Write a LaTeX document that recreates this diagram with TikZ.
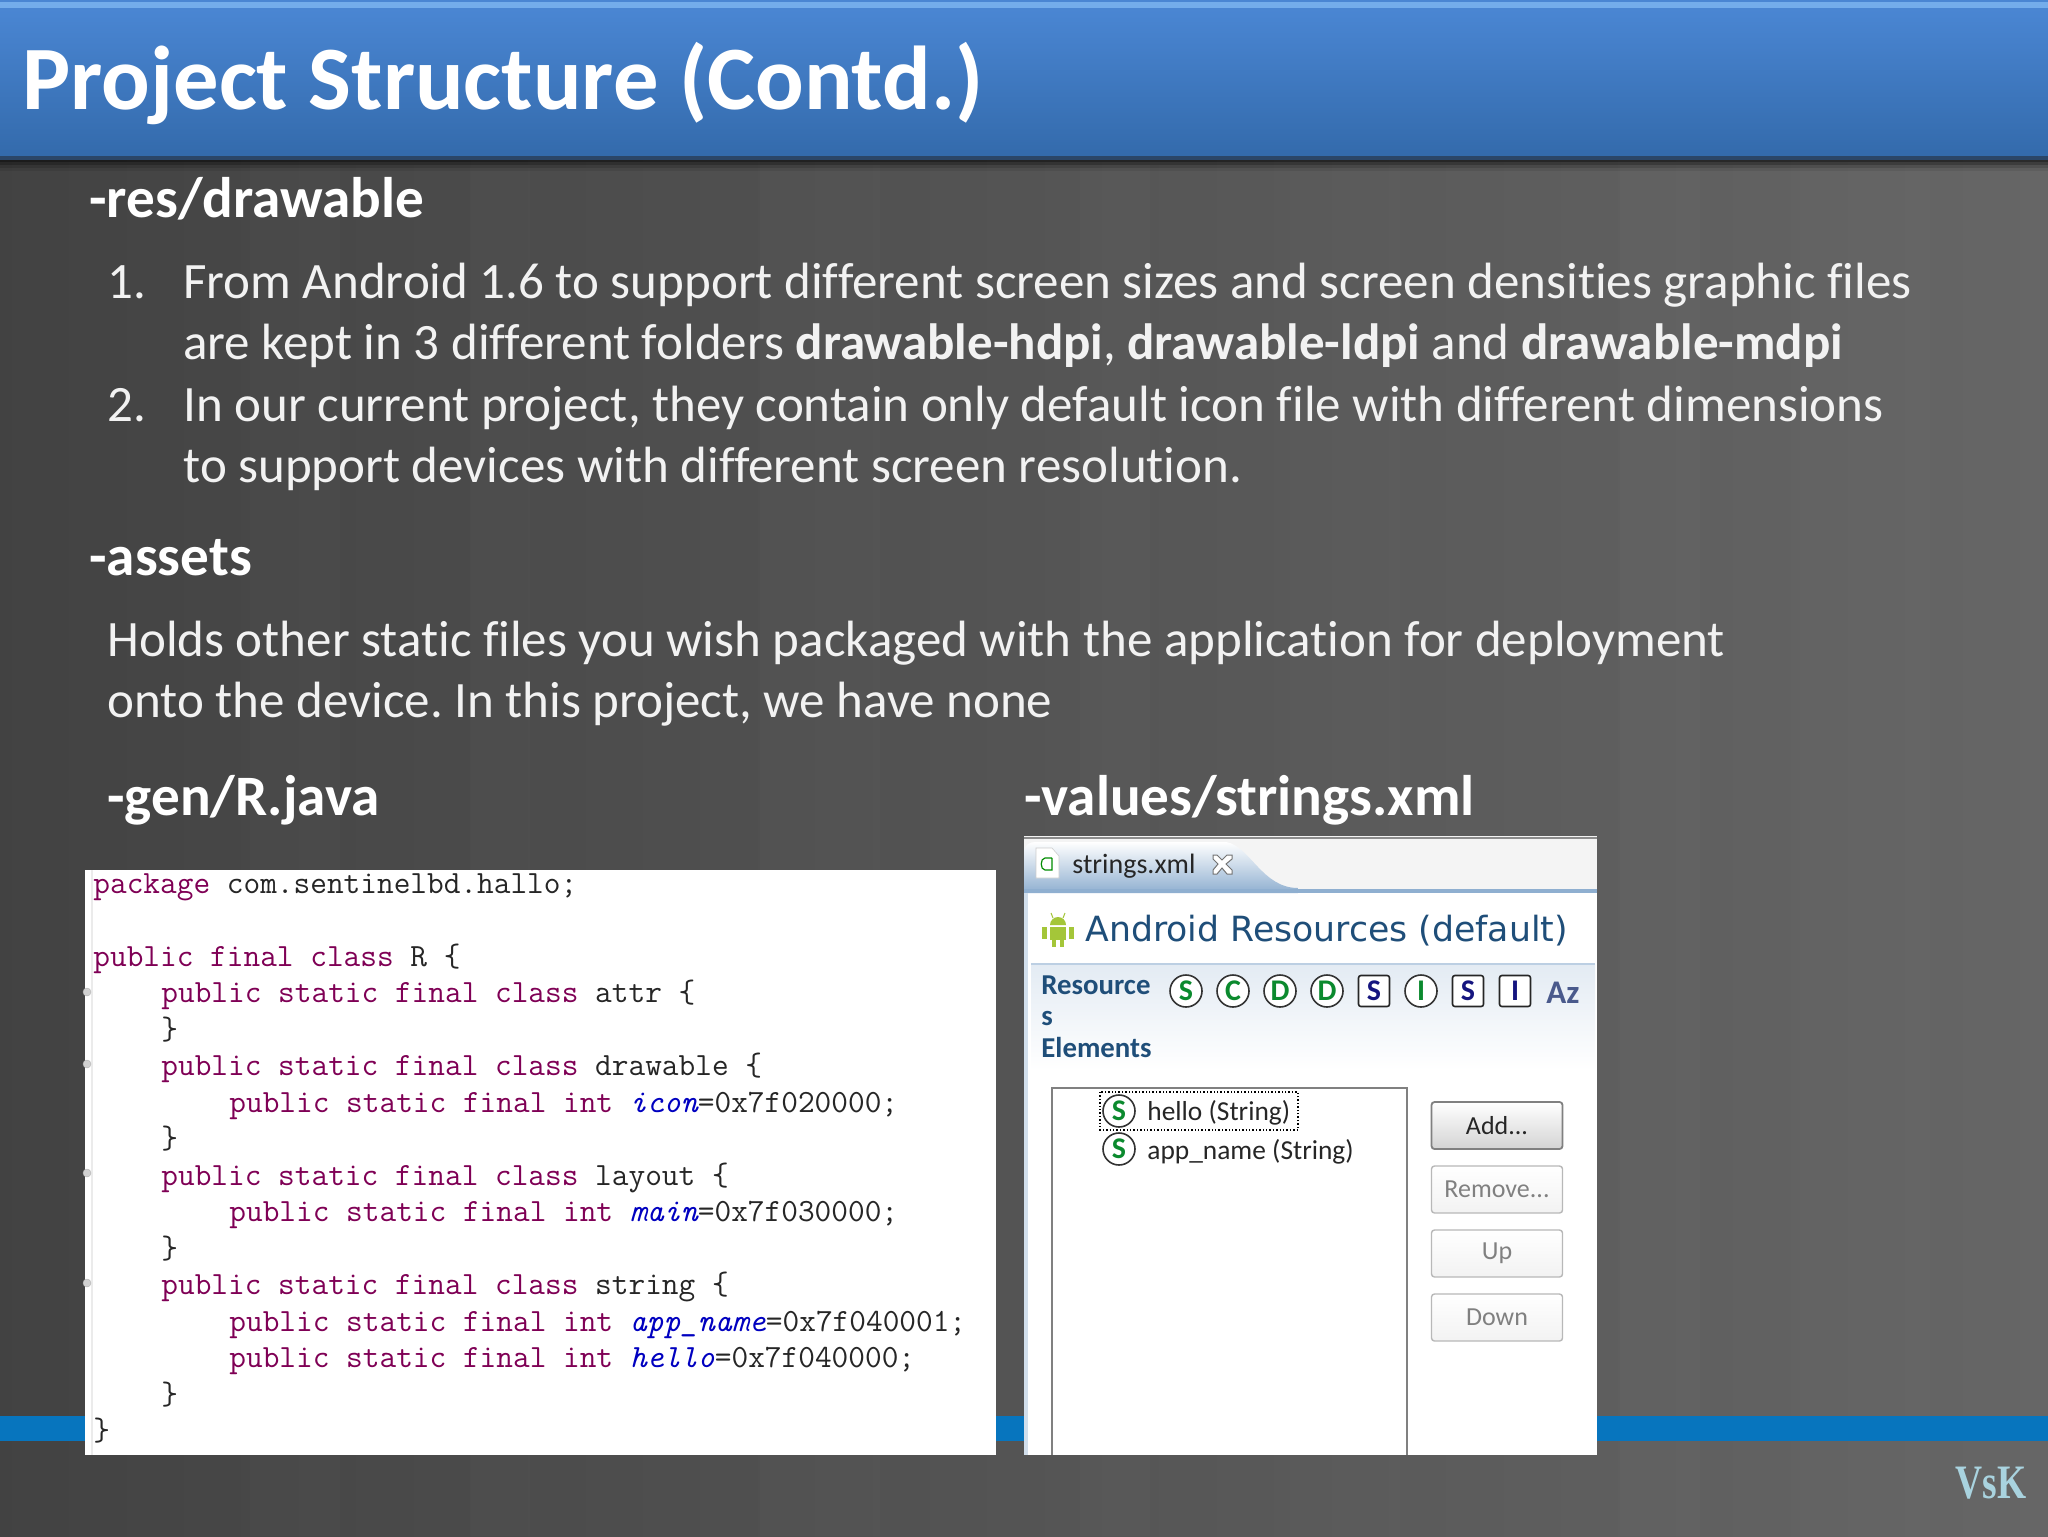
\documentclass[tikz,border=0pt]{standalone}
\usepackage{fontspec}
\setmainfont{Carlito}[Ligatures=NoCommon]
\newfontfamily\uifont{DejaVu Sans}
\newfontfamily\markfont{Liberation Serif}
\newcommand{\codefont}{\ttfamily\addfontfeature{FakeBold=0.35}}
\definecolor{kwcol}{HTML}{7F0055}
\definecolor{fldcol}{HTML}{0000C0}
\definecolor{uiblue}{HTML}{1F4E79}
\definecolor{azcol}{HTML}{4A5A8C}
\definecolor{icogreen}{HTML}{0B8A2E}
\definecolor{icoblue}{HTML}{15157F}
\definecolor{droid}{HTML}{A4C639}
\definecolor{rulecol}{HTML}{0775BE}
\definecolor{hdtop}{HTML}{4A86D3}
\definecolor{hdbot}{HTML}{336AAB}
\definecolor{hdhi}{HTML}{74ADEB}
\definecolor{hdline}{HTML}{2B4668}
\definecolor{tabblue}{HTML}{8FAFD0}
\definecolor{tabbar}{HTML}{F4F4F4}
\definecolor{sigcol}{HTML}{A9D3DF}
\newcommand{\kwd}[1]{\textcolor{kwcol}{#1}}
\newcommand{\fld}[1]{\textcolor{fldcol}{\itshape #1}}
\newcommand{\pubsf}{\kwd{public static final}}
\tikzset{
  txt/.style={anchor=base west,inner sep=0pt,text=white},
  slidetitle/.style={txt,font=\bfseries\fontsize{45.3}{50}\selectfont},
  head/.style={txt,font=\bfseries\fontsize{28.6}{32}\selectfont},
  body/.style={txt,font=\fontsize{25.5}{30}\selectfont,text=white!95!black},
  codeline/.style={anchor=base west,inner sep=0pt,font=\codefont\fontsize{16.2}{18}\selectfont,text=black!85},
  uilabel/.style={anchor=base west,inner sep=0pt,font=\bfseries\fontsize{14.4}{16}\selectfont,text=uiblue},
  listitem/.style={anchor=base west,inner sep=0pt,font=\fontsize{13.7}{15}\selectfont,text=black!85},
  icocirc/.style={circle,draw=black!80,line width=0.8pt,fill=white,minimum size=16pt,inner sep=0pt,text=icogreen,font=\bfseries\fontsize{15}{15}\selectfont},
  icosq/.style={rectangle,rounded corners=1.2pt,draw=black!85,line width=0.8pt,fill=white,minimum size=15.5pt,inner sep=0pt,text=icoblue,font=\bfseries\fontsize{15}{15}\selectfont},
  btnon/.style={rectangle,rounded corners=1.5pt,draw=black!50,line width=0.9pt,top color=white,bottom color=black!17,minimum width=65.5pt,minimum height=23.5pt,inner sep=0pt,text=black!85,font=\fontsize{13}{15}\selectfont},
  btnoff/.style={rectangle,rounded corners=1.5pt,draw=black!28,line width=0.7pt,top color=white,bottom color=black!5,minimum width=65.5pt,minimum height=23.5pt,inner sep=0pt,text=black!50,font=\fontsize{13}{15}\selectfont},
  fold/.style={circle,fill=black!18,draw=black!30,line width=0.2pt,minimum size=4pt,inner sep=0pt},
}
\begin{document}
\frenchspacing
\begin{tikzpicture}[x=0.5pt,y=-0.5pt]
\useasboundingbox (0,0) rectangle (2048,1536);
% background
\shade[left color=black!74!white,right color=black!60!white] (0,0) rectangle (2048,1536);
\foreach \sx/\sw/\so in {250/90/.012,470/60/.010,760/120/.012,1080/70/.014,1290/110/.010,1620/80/.014,1800/130/.010}
  \fill[white,opacity=\so] (\sx,165) rectangle (\sx+\sw,1536);
% bottom rule
\fill[rulecol] (0,1416) rectangle (2048,1441);
% header
\foreach \h/\o in {162/.30,165/.22,168/.14,171/.08}
  \fill[black,opacity=\o] (0,158) rectangle (2048,\h);
\shade[top color=hdtop,bottom color=hdbot] (0,8) rectangle (2048,158);
\fill[hdhi] (0,2) rectangle (2048,8);
\fill[hdtop] (0,0) rectangle (2048,2);
\fill[hdline] (0,156) rectangle (2048,160);
\node[slidetitle] (title) at (22,110) {Project Structure (Contd.)};
% section texts
\node[head] (resh) at (89,217) {-res/drawable};
\node[body] (n1) at (107,298) {1.};
\node[body] (l1) at (183,298) {From Android 1.6 to support different screen sizes and screen densities graphic files};
\node[body] (l2) at (183,359) {are kept in 3 different folders \textbf{drawable-hdpi}, \textbf{drawable-ldpi} and \textbf{drawable-mdpi}};
\node[body] (n2) at (107,421) {2.};
\node[body] (l3) at (183,421) {In our current project, they contain only default icon file with different dimensions};
\node[body] (l4) at (183,482) {to support devices with different screen resolution.};
\node[head] (assh) at (89,575) {-assets};
\node[body] (a1) at (107,656) {Holds other static files you wish packaged with the application for deployment};
\node[body] (a2) at (107,717) {onto the device. In this project, we have none};
\node[head] (genh) at (107,815) {-gen/R.java};
\node[head] (valh) at (1024,815) {-values/strings.xml};
% code panel
\fill[white] (85,870) rectangle (996,1455);
\draw[black!8,line width=0.6pt] (92,870) -- (92,1455);
\foreach \i/\fy in {a/992,b/1064,c/1173,d/1283} \node[fold] (fold\i) at (87,\fy) {};
\node[codeline] (c1) at (93,893) {\kwd{package} com.sentinelbd.hallo;};
\node[codeline] (c3) at (93,966) {\kwd{public final class} R \{};
\node[codeline] (c4) at (161,1002.5) {\pubsf{} \kwd{class} attr \{};
\node[codeline] (c5) at (161,1039) {\}};
\node[codeline] (c6) at (161,1075.5) {\pubsf{} \kwd{class} drawable \{};
\node[codeline] (c7) at (229,1112) {\pubsf{} \kwd{int} \fld{icon}=0x7f020000;};
\node[codeline] (c8) at (161,1148.5) {\}};
\node[codeline] (c9) at (161,1185) {\pubsf{} \kwd{class} layout \{};
\node[codeline] (c10) at (229,1221.5) {\pubsf{} \kwd{int} \fld{main}=0x7f030000;};
\node[codeline] (c11) at (161,1258) {\}};
\node[codeline] (c12) at (161,1294.5) {\pubsf{} \kwd{class} string \{};
\node[codeline] (c13) at (229,1331) {\pubsf{} \kwd{int} \fld{app\_name}=0x7f040001;};
\node[codeline] (c14) at (229,1367.5) {\pubsf{} \kwd{int} \fld{hello}=0x7f040000;};
\node[codeline] (c15) at (161,1404) {\}};
\node[codeline] (c16) at (93,1440.5) {\}};
% strings panel
\fill[white] (1024,836) rectangle (1597,1455);
\fill[tabbar] (1024,836) rectangle (1597,893);
\draw[black!45,line width=0.8pt] (1024,838) -- (1597,838);
\shade[top color=white,bottom color=tabblue] (1024,893) -- (1024,850) .. controls (1026,844) and (1030,842) .. (1036,842) -- (1226,842) .. controls (1250,846) and (1262,888) .. (1298,888) -- (1298,893) -- cycle;
\fill[tabblue] (1024,889) rectangle (1597,893);
\fill[tabblue!40] (1024,893) rectangle (1028,1455);
% file icon
\fill[white,draw=black!20,line width=.3pt] (1036,848) -- (1052,848) -- (1059,856) -- (1059,878) -- (1036,878) -- cycle;
\draw[green!55!black,line width=0.6pt] (1052,858) -- (1045,858) .. controls (1040,858) and (1040,870) .. (1045,870) -- (1052,870) -- (1052,858);
\node[anchor=base west,inner sep=0pt,font=\fontsize{14}{16}\selectfont,text=black!85] (tabname) at (1072,873) {strings.xml};
\draw[black!55,fill=white,line width=0.5pt] (1213,855) -- (1217,855) -- (1222,860) -- (1227,855) -- (1232,855) -- (1232,859) -- (1226,864) -- (1232,870) -- (1232,874) -- (1227,874) -- (1222,868) -- (1217,874) -- (1213,874) -- (1213,870) -- (1218,864) -- (1213,859) -- cycle;
% android
\fill[droid] (1050,925) arc[start angle=180,end angle=360,radius=8] -- cycle;
\fill[droid] (1050,927) rectangle (1066,940);
\fill[droid] (1042,927) rectangle (1047,939);
\fill[droid] (1069,927) rectangle (1074,939);
\fill[droid] (1052,940) rectangle (1056,947);
\fill[droid] (1060,940) rectangle (1064,947);
\draw[droid,line width=0.5pt] (1053,918) -- (1051,913) (1063,918) -- (1065,913);
\node[anchor=base west,inner sep=0pt,font=\uifont\fontsize{17.35}{20}\selectfont,text=uiblue] (formtitle) at (1085,941) {Android Resources (default)};
% section
\shade[top color=tabblue!25,bottom color=white] (1031,964) rectangle (1595,1070);
\draw[tabblue!60,line width=0.7pt] (1031,964) -- (1595,964);
\node[uilabel] (r1) at (1041,994) {Resource};
\node[uilabel] (r2) at (1041,1025) {s};
\node[uilabel] (r3) at (1041,1057) {Elements};
\node[icocirc] (i1) at (1186,991) {S};
\node[icocirc] (i2) at (1233,991) {C};
\node[icocirc] (i3) at (1280,991) {D};
\node[icocirc] (i4) at (1327,991) {D};
\node[icosq] (i5) at (1374,991) {S};
\node[icocirc] (i6) at (1421,991) {I};
\node[icosq] (i7) at (1468,991) {S};
\node[icosq] (i8) at (1515,991) {I};
\node[anchor=base west,inner sep=0pt,font=\bfseries\fontsize{16.5}{18}\selectfont,text=azcol] (az) at (1546,1003) {Az};
% tree
\fill[white] (1052,1088) rectangle (1407,1455);
\draw[black!50,line width=0.8pt] (1052,1455) -- (1052,1088) -- (1407,1088) -- (1407,1455);
\draw[black,line width=0.7pt,densely dotted] (1100,1092) rectangle (1298,1130);
\node[icocirc] (s1) at (1119,1111) {S};
\node[listitem] (hello) at (1147,1120) {hello (String)};
\node[icocirc] (s2) at (1119,1149) {S};
\node[listitem] (appn) at (1147,1159) {app\_name (String)};
% buttons
\node[btnon] (add) at (1497,1125.5) {Add...};
\node[btnoff] (rem) at (1497,1189.5) {Remove...};
\node[btnoff] (up) at (1497,1253.5) {Up};
\node[btnoff] (down) at (1497,1317.5) {Down};
% signature
\node[anchor=base west,inner sep=0pt,text=sigcol,font=\markfont\bfseries\fontsize{24}{26}\selectfont] (sig) at (1955,1498) {\scalebox{0.78}[1]{VsK}};
\end{tikzpicture}
\end{document}
